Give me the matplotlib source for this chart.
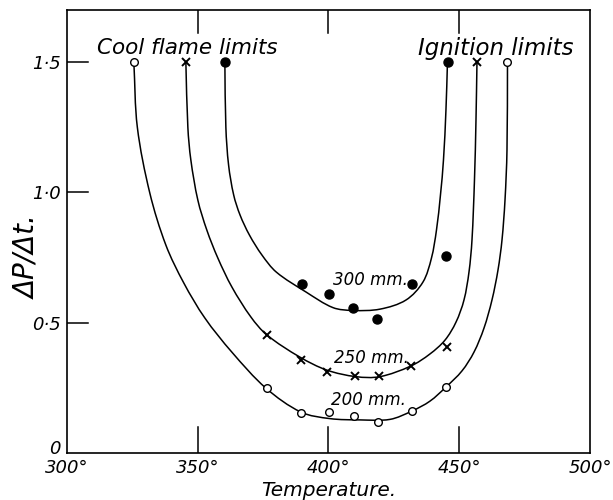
import numpy as np
import matplotlib.pyplot as plt
from matplotlib.path import Path
from matplotlib.patches import PathPatch

# smooth curves (temperature, dP/dt)
c200_t = [325.62, 326.96, 331.74, 337.86, 344.74, 352.77, 363.10, 376.10, 389.48, 400.57,
          412.05, 423.52, 431.93, 438.81, 444.93, 451.05, 455.64, 459.46, 462.52, 464.82,
          466.35, 467.50, 468.26, 468.45]
c200_y = [1.500, 1.250, 0.997, 0.798, 0.652, 0.518, 0.387, 0.249, 0.157, 0.132,
          0.127, 0.129, 0.161, 0.199, 0.253, 0.315, 0.387, 0.479, 0.587, 0.702,
          0.817, 0.970, 1.162, 1.500]

c250_t = [345.51, 346.27, 347.42, 350.10, 353.54, 357.74, 363.10, 370.36, 376.48, 389.10,
          399.43, 410.52, 419.69, 431.55, 438.81, 444.55, 448.76, 451.82, 453.73, 454.88,
          455.83, 456.41, 456.79]
c250_y = [1.500, 1.250, 1.124, 0.970, 0.855, 0.748, 0.637, 0.522, 0.453, 0.368,
          0.318, 0.293, 0.293, 0.334, 0.380, 0.433, 0.502, 0.587, 0.694, 0.817,
          1.047, 1.277, 1.500]

c300_t = [360.42, 360.80, 361.84, 363.79, 366.23, 369.83, 374.57, 380.11, 391.40, 401.72,
          409.37, 419.69, 429.64, 436.14, 439.39, 441.30, 442.83, 443.98, 444.93, 445.51]
c300_y = [1.500, 1.250, 1.105, 0.990, 0.913, 0.836, 0.760, 0.694, 0.618, 0.558,
          0.547, 0.552, 0.587, 0.656, 0.748, 0.855, 0.990, 1.124, 1.316, 1.500]

# measured points
p200_t = [325.6, 376.4, 389.7, 400.3, 409.9, 419.0, 431.8, 444.9, 468.3]
p200_y = [1.50, 0.25, 0.152, 0.156, 0.143, 0.12, 0.162, 0.254, 1.50]
p250_t = [345.5, 376.4, 389.7, 399.5, 410.1, 419.3, 431.5, 445.2, 456.7]
p250_y = [1.50, 0.453, 0.357, 0.312, 0.295, 0.295, 0.334, 0.408, 1.50]
p300_t = [360.4, 390.0, 400.2, 409.5, 418.7, 431.8, 444.9, 445.6]
p300_y = [1.50, 0.647, 0.609, 0.557, 0.514, 0.648, 0.757, 1.50]

xticks = [300, 350, 400, 450, 500]
xlabels = ['300°', '350°', '400°', '450°', '500°']
yticks = [0.5, 1.0, 1.5]
ylabels = ['0·5', '1·0', '1·5']

XMIN, XMAX, YMIN, YMAX = 300, 500, 0, 1.70


def smooth_path(xs, ys, sx, sy):
    # bezier through the read points, tangents from chord lengths in screen units
    Q = np.column_stack([np.array(xs) * sx, np.array(ys) * sy])
    d = np.hypot(*np.diff(Q, axis=0).T)
    T = np.zeros_like(Q)
    T[0] = (Q[1] - Q[0]) / d[0]
    T[-1] = (Q[-1] - Q[-2]) / d[-1]
    for i in range(1, len(Q) - 1):
        T[i] = (Q[i + 1] - Q[i - 1]) / (d[i - 1] + d[i])
    verts = [Q[0]]
    codes = [Path.MOVETO]
    for i in range(len(Q) - 1):
        verts += [Q[i] + T[i] * d[i] / 3, Q[i + 1] - T[i + 1] * d[i] / 3, Q[i + 1]]
        codes += [Path.CURVE4] * 3
    verts = np.array(verts) / [sx, sy]
    return Path(verts, codes)


plt.rcParams['font.family'] = 'DejaVu Sans'
fig = plt.figure(figsize=(6.13, 5), dpi=100)
ax = fig.add_axes([0.109, 0.094, 0.8535, 0.886])

sx = 523 / (XMAX - XMIN)
sy = 443 / (YMAX - YMIN)
lw = 1.1
for xs, ys in [(c200_t, c200_y), (c250_t, c250_y), (c300_t, c300_y)]:
    ax.add_patch(PathPatch(smooth_path(xs, ys, sx, sy), fill=False, ec='black', lw=lw))

ax.plot(p200_t, p200_y, 'o', mfc='white', mec='black', mew=1.0, ms=5.5)
ax.plot(p250_t, p250_y, 'x', color='black', mew=1.4, ms=6)
ax.plot(p300_t, p300_y, 'o', color='black', ms=6.5)

tf = dict(style='italic', fontsize=12)
ax.text(416, 0.664, '300 mm.', ha='center', va='center', **tf)
ax.text(416.5, 0.363, '250 mm.', ha='center', va='center', **tf)
ax.text(415.2, 0.203, '200 mm.', ha='center', va='center', **tf)
ax.text(346, 1.553, 'Cool flame limits', ha='center', va='center', style='italic', fontsize=15.5)
ax.text(464, 1.553, 'Ignition limits', ha='center', va='center', style='italic', fontsize=16.5)

ax.set_xlim(XMIN, XMAX)
ax.set_ylim(YMIN, YMAX)

ax.set_xticks(xticks)
ax.set_xticklabels(xlabels, style='italic', fontsize=13)
ax.set_yticks(yticks)
ax.set_yticklabels(ylabels, style='italic', fontsize=13)
ax.tick_params(axis='both', direction='in', length=0, pad=4, width=1.1)
# zero label sits a little above the x axis
ax.text(-0.012, 0.01, '0', transform=ax.transAxes, ha='right', va='center',
        style='italic', fontsize=13)

# long inward ticks drawn on the frame
for t in [350, 400, 450]:
    ax.plot([t, t], [0, 0.1], color='black', lw=1.1)
    ax.plot([t, t], [1.70, 1.61], color='black', lw=1.1)
for v in [0.5, 1.0, 1.5]:
    ax.plot([300, 308], [v, v], color='black', lw=1.1)

for s in ax.spines.values():
    s.set_linewidth(1.2)

ax.set_xlabel('Temperature.', style='italic', fontsize=14.5, labelpad=3)
ax.text(-0.075, 0.75, 'ΔP/Δt.', transform=ax.get_yaxis_transform(), rotation=90,
        ha='center', va='center', style='italic', fontsize=20)

fig.savefig('out.png', dpi=100)
